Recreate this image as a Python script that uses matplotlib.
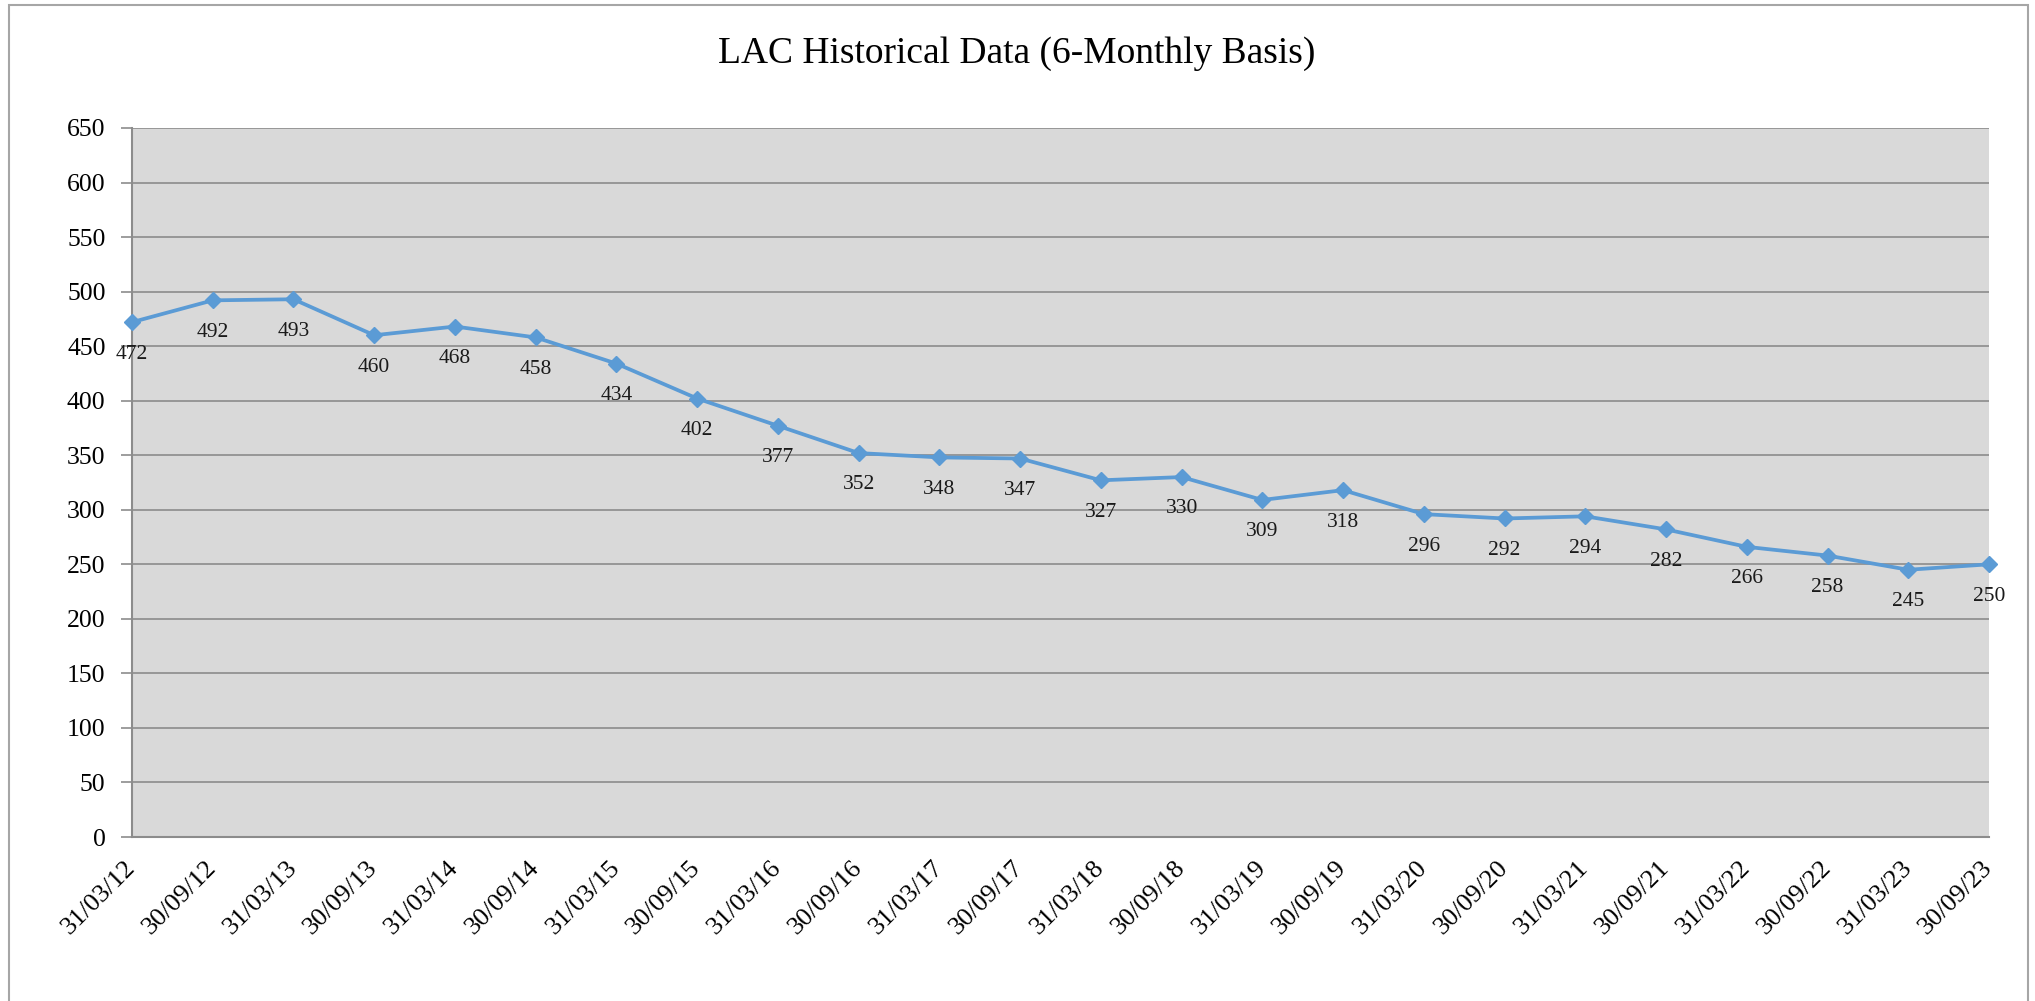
import numpy as np
import matplotlib.pyplot as plt
from matplotlib.patches import Rectangle

# Datos del grafico
dates = ['31/03/12', '30/09/12', '31/03/13', '30/09/13', '31/03/14', '30/09/14',
         '31/03/15', '30/09/15', '31/03/16', '30/09/16', '31/03/17', '30/09/17',
         '31/03/18', '30/09/18', '31/03/19', '30/09/19', '31/03/20', '30/09/20',
         '31/03/21', '30/09/21', '31/03/22', '30/09/22', '31/03/23', '30/09/23']
lac = [472, 492, 493, 460, 468, 458, 434, 402, 377, 352, 348, 347,
       327, 330, 309, 318, 296, 292, 294, 282, 266, 258, 245, 250]
y_ticks = list(range(0, 651, 50))

plt.rcParams['font.family'] = ['Liberation Serif', 'DejaVu Serif']

W, H = 2035, 1001
fig = plt.figure(figsize=(W / 100, H / 100), dpi=100)

# Borde exterior del grafico (sin borde inferior visible)
fig.patches.append(Rectangle((9 / W, -0.05), (2028 - 9) / W, 1.05 - 5 / H,
                             transform=fig.transFigure, fill=False,
                             edgecolor='#a6a6a6', linewidth=1.5))

left, right, top, bottom = 132, 1989, 128, 837
ax = fig.add_axes([left / W, 1 - bottom / H, (right - left) / W, (bottom - top) / H])
ax.set_facecolor('#d9d9d9')

x = np.arange(len(dates))
ax.plot(x, lac, color='#5b9bd5', linewidth=2.7, marker='D', markersize=8,
        clip_on=False, zorder=3)

for xi, v in zip(x, lac):
    ax.annotate(str(v), (xi, v), xytext=(0, -23), textcoords='offset points',
                ha='center', va='center', fontsize=15.5, color='#1a1a1a',
                annotation_clip=False)

ax.set_xlim(0, len(dates) - 1)
ax.set_ylim(0, 650)
ax.set_yticks(y_ticks)
ax.set_yticklabels([str(t) for t in y_ticks], fontsize=18.5)
ax.set_xticks(x)
ax.set_xticklabels(dates, fontsize=19, rotation=45, ha='right', va='center',
                   rotation_mode='anchor')
ax.tick_params(axis='x', length=0, pad=20)
ax.tick_params(axis='y', length=8, color='#8c8c8c', width=1.2, pad=11)

ax.grid(axis='y', color='#8c8c8c', linewidth=1.2)
ax.set_axisbelow(True)
for s in ['top', 'right']:
    ax.spines[s].set_visible(False)
ax.spines['left'].set_color('#8c8c8c')
ax.spines['left'].set_linewidth(1.5)
ax.spines['bottom'].set_color('#8c8c8c')
ax.spines['bottom'].set_linewidth(1.5)

fig.text((720 + 1314) / 2 / W, 1 - 54 / H, 'LAC Historical Data (6-Monthly Basis)',
         ha='center', va='center', fontsize=27)

fig.savefig('out.png', dpi=100)
